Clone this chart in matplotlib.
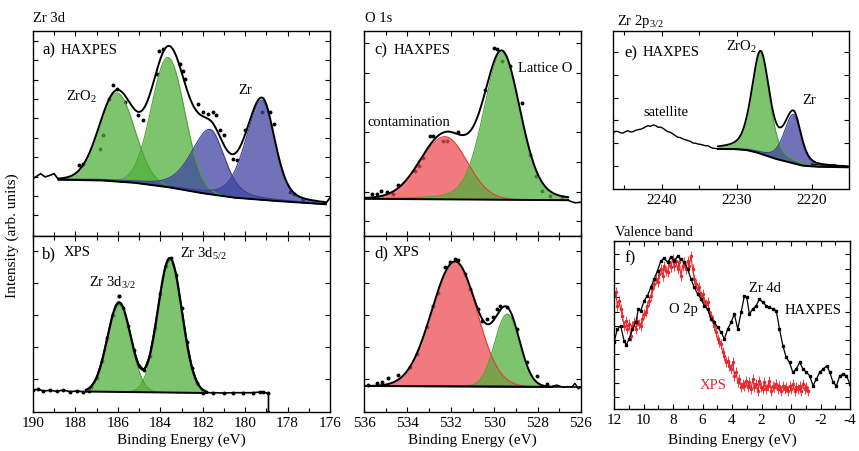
import numpy as np
import matplotlib
matplotlib.use("Agg")
import matplotlib.pyplot as plt
from matplotlib.ticker import MultipleLocator, NullFormatter

plt.rcParams['font.family'] = ['Liberation Serif', 'DejaVu Serif']
plt.rcParams['mathtext.fontset'] = 'custom'
plt.rcParams['mathtext.rm'] = 'Liberation Serif'
plt.rcParams['mathtext.it'] = 'Liberation Serif:italic'
plt.rcParams['axes.unicode_minus'] = False

# ---------------- DATA ----------------
# (a) Zr 3d HAXPES
A_BG_BE = [188.8, 186.84, 185.27, 183.7, 182.1, 180.55, 178.98, 177.4, 176.2]
A_BG_I = [56, 55.3, 53, 48.7, 42.7, 38, 35.3, 33, 31.3]
# peaks: center, height, HWHM high-BE side, HWHM low-BE side, lorentz fraction
A_ZRO2 = [(186.04, 88.7, 0.98, 0.98, 0.0), (183.63, 130, 0.92, 0.92, 0.0)]
A_ZR = [(181.65, 65, 1.05, 0.80, 0.4), (179.2, 100, 0.90, 0.70, 0.3)]
A_DOT_BE = [187.83, 187.63, 186.84, 186.68, 186.40, 186.21, 186.02, 185.66, 185.06, 184.80,
            184.16, 184.04, 183.85, 183.07, 182.91, 182.83, 182.20, 181.97, 181.73, 181.50,
            181.37, 181.18, 181.02, 180.55, 180.39, 180.00, 179.21, 178.85, 178.66, 177.88,
            177.72, 177.25]
A_DOT_I = [70.3, 71.3, 87, 100.3, 137, 151, 147, 133.7, 120.3, 115.3,
           162, 185.3, 187, 172, 165.3, 157, 132, 123.7, 122, 123.7,
           121, 105.3, 100.3, 77, 75.3, 105.3, 123.7, 123.7, 112, 43.7,
           42, 37]
A_LEFT_BE = [190.0, 189.64, 189.43, 189.2, 189.0, 188.8]
A_LEFT_I = [57, 62, 58.7, 60.3, 62, 56]
A_RIGHT_BE = [176.2, 176.0]
A_RIGHT_I = [32, 38]

# (b) Zr 3d XPS
B_BG_BE = [187.5, 181.8]
B_BG_I = [20.5, 19.0]
B_ZRO2 = [(185.94, 89.5, 0.65, 0.65, 0.0), (183.55, 134.5, 0.67, 0.67, 0.0)]
B_DATA_BE = [190.0, 189.75, 189.51, 189.2, 188.88, 188.57, 188.25, 187.94, 187.63, 187.34,
             187.25, 187.0, 186.75, 186.5, 186.25, 186.0, 185.75, 185.5, 185.25, 185.0,
             184.75, 184.5, 184.25, 184.0, 183.75, 183.5, 183.25, 183.0, 182.75, 182.5,
             182.25, 181.97, 181.5, 181.02, 180.55, 180.08, 179.61, 179.29, 179.14, 178.9, 178.9]
B_DATA_I = [22, 22.7, 21, 21.7, 20.7, 22, 20.3, 21, 20.3, 20.7,
            25.5, 34.5, 51, 74, 97, 109.5, 104, 86, 62, 46.5,
            42, 56, 84.5, 118, 146, 154, 137.5, 104, 70.5, 44,
            29, 19.3, 19.3, 19, 19.3, 19.3, 19.3, 20, 19.7, 18.7, 0]
B_OUT_BE = [185.94]
B_OUT_I = [116]

# (c) O 1s HAXPES
C_BG_BE = [536.0, 526.6]
C_BG_I = [36.7, 35.3]
C_CONT = (532.27, 62.7, 1.32, 1.2, 0.0)
C_LAT = (529.64, 147, 1.0, 1.0, 0.2)
C_DOT_BE = [535.65, 535.42, 535.23, 534.95, 534.65, 534.42, 533.65, 533.45, 533.27, 532.96,
            532.81, 532.35, 532.19, 531.65, 530.42, 530.0, 529.88, 529.65, 529.27, 528.73,
            528.35, 528.07, 527.81, 527.43, 526.89]
C_DOT_I = [41.7, 41.7, 44.3, 43.3, 42, 51, 65, 69.3, 77.7, 99.3,
           99.3, 94.3, 94.3, 103.7, 146, 187.7, 186.7, 174.3, 169.3, 132.7,
           81, 59.3, 44.3, 39.3, 38.7]
C_RIGHT_BE = [526.6, 526.5, 526.27, 526.0]
C_RIGHT_I = [35.5, 34.3, 32.7, 33.3]

# (d) O 1s XPS
D_BG_BE = [536.0, 526.0]
D_BG_I = [26.0, 25.0]
D_CONT = (531.8, 125, 1.27, 1.18, 0.0)
D_LAT = (529.4, 72.5, 0.68, 0.68, 0.0)
D_DOT_BE = [535.8, 535.42, 535.19, 534.88, 534.42, 533.88, 533.57, 533.11, 532.81, 532.58,
            532.27, 532.04, 531.81, 531.65, 531.35, 531.12, 530.73, 530.58, 530.35, 530.04,
            529.88, 529.73, 529.42, 528.96, 528.5, 528.04, 527.58]
D_DOT_I = [27.3, 29, 30.3, 33.7, 37, 44.7, 58, 84.7, 106.3, 119,
           144.7, 149.7, 153, 152.3, 138, 123, 103, 91.3, 93, 94.7,
           103, 105.7, 105.3, 83, 49.7, 36.3, 28]
D_RIGHT_BE = [527.3, 527.12, 526.82, 526.6, 526.43, 526.28, 526.12, 526.0]
D_RIGHT_I = [26, 27, 24.7, 25.5, 24.7, 28.7, 23, 25]

# (e) Zr 2p3/2 HAXPES
E_LEFT_BE = [2246.4, 2246.1, 2245.8, 2245.5, 2245.16, 2244.8, 2244.49, 2244.15, 2243.83,
             2243.5, 2243.16, 2242.8, 2242.49, 2242.15, 2241.83, 2241.5, 2241.16, 2240.8,
             2240.49, 2240.15, 2239.83, 2239.5, 2239.16, 2238.8, 2238.49, 2238.15, 2237.83,
             2237.5, 2237.16, 2236.8, 2236.49, 2236.15, 2235.83, 2235.5, 2235.16, 2234.8,
             2234.49, 2234.15, 2233.83, 2233.5, 2233.16, 2232.8, 2232.49]
E_LEFT_I = [56.7, 57.8, 57.3, 56.2, 56, 57.5, 58.3, 57, 57.3,
            58.6, 59.3, 59.8, 60.7, 62.2, 63.3, 62.6, 64, 63.4,
            61.7, 61.9, 60.7, 58.8, 57.3, 56.5, 55, 53.2, 51.7,
            51.4, 50, 49.2, 48.3, 47.6, 46, 45.8, 45, 44.6,
            44, 43.2, 43.3, 41.8, 40.7, 40.6, 40]
E_BG_BE = [2232.49, 2230.49, 2228.71, 2227.37, 2226.04, 2224.71, 2222.93, 2221.16, 2219.37, 2215.16]
E_BG_I = [40, 40, 39, 36.7, 33.3, 30, 26.7, 23.3, 22.3, 21.7]
E_ZRO2 = (2226.8, 101, 1.4, 1.4, 0.4)
E_ZR = (2222.4, 49, 1.45, 1.15, 0.4)
E_RIGHT_BE = [2220.0, 2219.5, 2219.0, 2218.5, 2218.0, 2217.5, 2217.0, 2216.5, 2216.0, 2215.3]
E_RIGHT_I = [25, 24, 25.5, 24, 24.5, 23.5, 24.5, 23, 23.5, 22.5]

# (f) Valence band
F_HAX_BE = [12.0, 11.77, 11.55, 11.32, 11.16, 10.98, 10.75, 10.52, 10.35, 10.18, 9.96, 9.73,
            9.5, 9.28, 9.05, 8.82, 8.6, 8.37, 8.14, 7.92, 7.69, 7.46, 7.24, 7.01, 6.78, 6.56,
            6.33, 6.1, 5.88, 5.65, 5.42, 5.2, 4.97, 4.74, 4.52, 4.29, 4.06, 3.84, 3.61, 3.38,
            3.16, 3.0, 2.82, 2.59, 2.36, 2.14, 1.91, 1.68, 1.46, 1.23, 1.0, 0.78, 0.55, 0.33,
            0.1, -0.12, -0.35, -0.59, -0.81, -1.04, -1.27, -1.49, -1.72, -1.95, -2.17, -2.44,
            -2.63, -2.85, -3.08, -3.31, -3.53, -3.76, -3.99]
F_HAX_I = [66.7, 80, 83.3, 68.3, 64, 70, 80, 86.7, 100, 98.3, 108.3, 113.3,
           121.7, 130, 138.3, 148.3, 150.7, 146.7, 151.7, 148.3, 152.7, 150, 146.7, 140, 130, 121.7,
           115, 110, 103.3, 100, 90, 86.7, 81.7, 76.7, 70, 80, 86.7, 95, 80, 96.7,
           113.3, 111.7, 95, 100, 103.3, 110, 106.7, 103.3, 101.7, 100, 98.3, 80, 63.3, 51.7,
           46.7, 36.7, 40, 46.7, 40, 36.7, 33.3, 23.3, 30, 36.7, 40, 43.3,
           36.7, 26.7, 23.3, 33.3, 35, 33.3, 25]
F_XPS_BE = [12.0, 11.89, 11.77, 11.66, 11.55, 11.43, 11.32, 11.2, 11.09, 10.98, 10.86, 10.75,
            10.64, 10.52, 10.41, 10.3, 10.18, 10.07, 9.96, 9.84, 9.73, 9.62, 9.5, 9.39, 9.28,
            9.16, 9.05, 8.94, 8.82, 8.71, 8.6, 8.48, 8.37, 8.26, 8.14, 8.03, 7.92, 7.8, 7.69,
            7.58, 7.46, 7.35, 7.24, 7.12, 7.01, 6.9, 6.78, 6.67, 6.56, 6.44, 6.33, 6.22, 6.1,
            5.99, 5.88, 5.76, 5.65, 5.54, 5.42, 5.31, 5.2, 5.08, 4.97, 4.86, 4.74, 4.63, 4.52,
            4.4, 4.29, 4.18, 4.06, 3.95, 3.84, 3.72, 3.61, 3.5, 3.38, 3.27, 3.16, 3.04, 2.93,
            2.82, 2.7, 2.59, 2.48, 2.36, 2.25, 2.14, 2.02, 1.91, 1.8, 1.68, 1.57, 1.46, 1.34,
            1.23, 1.12, 1.0, 0.89, 0.78, 0.66, 0.55, 0.44, 0.33, 0.21, 0.1, -0.02, -0.13, -0.24,
            -0.35, -0.47, -0.58, -0.69, -0.81, -0.92, -1.03, -1.15]
F_XPS_I = [113.3, 116.7, 103.3, 108.3, 100, 93.3, 83.3, 88.3, 80, 85, 73.3, 83.3,
           86.7, 80, 88.3, 85, 83.3, 90, 95, 96.7, 103.3, 108.3, 113.3, 120, 125,
           130, 126.7, 135, 140, 133.3, 143.3, 138.3, 136.7, 146.7, 141.7, 150, 143.3, 148.3, 140,
           146.7, 133.3, 143.3, 146.7, 140, 148.3, 143.3, 153.3, 140, 130, 125, 120, 121.7, 113.3,
           115, 108.3, 105, 106.7, 96.7, 93.3, 88.3, 83.3, 76.7, 70, 66.7, 65, 56.7, 53.3,
           46.7, 48.3, 43.3, 40, 46.7, 33.3, 36.7, 26.7, 30, 21.7, 25, 23.3, 28.3, 21.7,
           26.7, 20, 30, 21.7, 25, 18.3, 28.3, 21.7, 20, 26.7, 20, 23.3, 28.3, 18.3,
           23.3, 21.7, 25, 20, 23.3, 18.3, 23.3, 20, 21.7, 18.3, 23.3, 20, 25, 18.3,
           21.7, 20, 23.3, 18.3, 25, 20, 21.7, 18.3]
F_XPS_ERR = 5

# ---------------- STYLE ----------------
GREEN = '#53B03D'
GREEN_EDGE = '#4CA532'
BLUE = '#4044A0'
BLUE_EDGE = '#3A3E98'
RED = '#EB4D53'
RED_EDGE = '#E8383D'
FILL_ALPHA = 0.75
XPS_RED = '#E8262B'

W, H = 859, 452
fig = plt.figure(figsize=(W / 100, H / 100), dpi=100)


def ax_px(l, r, t, b):
    return fig.add_axes([l / W, 1 - b / H, (r - l) / W, (b - t) / H])


def pv(x, p):
    c, h, wl, wr, eta = p
    w = np.where(x >= c, wl, wr)
    u = ((x - c) / w) ** 2
    return h * ((1 - eta) * np.exp(-np.log(2) * u) + eta / (1 + u))


def bg_on(grid, be, val):
    be = np.asarray(be)[::-1]
    val = np.asarray(val)[::-1]
    return np.interp(grid, be, val)


def style(ax, xlim, ylim, xmaj, xmin, yticks, labels):
    ax.set_xlim(*xlim)
    ax.set_ylim(*ylim)
    ax.xaxis.set_major_locator(MultipleLocator(xmaj))
    ax.xaxis.set_minor_locator(MultipleLocator(xmin))
    ax.set_yticks(yticks)
    ax.yaxis.set_major_formatter(NullFormatter())
    if not labels:
        ax.xaxis.set_major_formatter(NullFormatter())
    ax.tick_params(which='both', direction='in', top=True, right=True, width=0.8,
                   labelsize=11, pad=3)
    ax.tick_params(which='major', length=3.5)
    ax.tick_params(which='minor', length=3.0)
    for s in ax.spines.values():
        s.set_linewidth(1.0)


def draw_fit(ax, grid, bgv, comps, colors, edges, lw_env=1.4):
    total = bgv.copy()
    for p, col, ec in zip(comps, colors, edges):
        y = pv(grid, p)
        ax.fill_between(grid, bgv, bgv + y, color=col, alpha=FILL_ALPHA, lw=0, zorder=2)
        ax.plot(grid, bgv + y, color=ec, lw=0.8, zorder=2.5)
        total = total + y
    ax.plot(grid, bgv, color='black', lw=1.4, zorder=3)
    ax.plot(grid, total, color='black', lw=lw_env, zorder=4)


def ftext(x, y, s, **kw):
    kw.setdefault('fontsize', 10.5)
    fig.text(x / W, 1 - y / H, s, ha='left', va='center', **kw)


# ---- (a)
axa = ax_px(33, 330, 32, 236.5)
ga = np.linspace(188.8, 176.2, 700)
bga = bg_on(ga, A_BG_BE, A_BG_I)
axa.plot(A_DOT_BE, A_DOT_I, ls='none', marker='o', ms=1.8, color='black', zorder=1)
draw_fit(axa, ga, bga, A_ZRO2 + A_ZR, [GREEN, GREEN, BLUE, BLUE],
         [GREEN_EDGE, GREEN_EDGE, BLUE_EDGE, BLUE_EDGE])
axa.plot(A_LEFT_BE, A_LEFT_I, color='black', lw=1.2, zorder=4)
axa.plot(A_RIGHT_BE, A_RIGHT_I, color='black', lw=1.2, zorder=4)
style(axa, (190, 176), (0, 205), 2, 1, 20.3 + 19.4 * np.arange(10), False)

# ---- (b)
axb = ax_px(33, 330, 236.5, 413)
gb = np.linspace(187.5, 181.8, 500)
bgb = bg_on(gb, B_BG_BE, B_BG_I)
axb.plot(B_DATA_BE, B_DATA_I, color='black', lw=1.2, marker='o', ms=1.8, zorder=1)
axb.plot(B_OUT_BE, B_OUT_I, ls='none', marker='o', ms=2.0, color='black', zorder=5)
draw_fit(axb, gb, bgb, B_ZRO2, [GREEN, GREEN], [GREEN_EDGE, GREEN_EDGE], lw_env=1.6)
style(axb, (190, 176), (0, 176.5), 2, 1, 33 + 32.07 * np.arange(5), True)

# ---- (c)
axc = ax_px(364, 581, 32, 236.5)
gc = np.linspace(536.0, 526.6, 600)
bgc = bg_on(gc, C_BG_BE, C_BG_I)
axc.plot(C_DOT_BE, C_DOT_I, ls='none', marker='o', ms=1.8, color='black', zorder=1)
draw_fit(axc, gc, bgc, [C_CONT, C_LAT], [RED, GREEN], [RED_EDGE, GREEN_EDGE])
axc.plot(C_RIGHT_BE, C_RIGHT_I, color='black', lw=1.2, zorder=4)
style(axc, (536, 526), (0, 204.5), 2, 1, 14.3 + 29.7 * np.arange(7), False)

# ---- (d)
axd = ax_px(364, 581, 236.5, 413)
gd = np.linspace(536.0, 527.3, 600)
bgd = bg_on(gd, D_BG_BE, D_BG_I)
axd.plot(D_DOT_BE, D_DOT_I, ls='none', marker='o', ms=1.8, color='black', zorder=1)
draw_fit(axd, gd, bgd, [D_CONT, D_LAT], [RED, GREEN], [RED_EDGE, GREEN_EDGE])
axd.plot(D_BG_BE, D_BG_I, color='black', lw=1.2, zorder=3)
axd.plot(D_RIGHT_BE, D_RIGHT_I, color='black', lw=1.0, zorder=4)
style(axd, (536, 526), (0, 176.5), 2, 1, 33 + 32.07 * np.arange(5), True)

# ---- (e)
axe = ax_px(613, 849, 32, 190)
ge = np.linspace(2232.49, 2215.16, 700)
bge = bg_on(ge, E_BG_BE, E_BG_I)
axe.plot(E_LEFT_BE, E_LEFT_I, color='black', lw=1.0, zorder=4)
draw_fit(axe, ge, bge, [E_ZRO2, E_ZR], [GREEN, BLUE], [GREEN_EDGE, BLUE_EDGE], lw_env=1.3)
axe.plot(E_RIGHT_BE, E_RIGHT_I, color='black', lw=0.9, zorder=4)
style(axe, (2246.5, 2215), (0, 158), 10, 5, 23.3 + 22.7 * np.arange(6), True)

# ---- (f)
axf = ax_px(614, 850, 242, 410)
axf.errorbar(F_XPS_BE, F_XPS_I, yerr=F_XPS_ERR, color=XPS_RED, lw=0.8, marker='o', ms=1.5,
             elinewidth=0.6, capsize=0, zorder=2)
axf.plot(F_HAX_BE, F_HAX_I, color='black', lw=0.9, marker='s', ms=1.6, zorder=3)
style(axf, (12, -4), (0, 168), 2, 1, 11.7 + 14.3 * np.arange(11), True)

# ---------------- TEXT ----------------
ftext(33, 19, 'Zr 3d')
ftext(365, 18, 'O 1s')
ftext(617, 22, r'Zr 2p$_{3/2}$')
ftext(615, 233, 'Valence band')

ftext(42, 50, 'a)', fontsize=12)
ftext(61, 50, 'HAXPES')
ftext(66, 97, r'ZrO$_2$')
ftext(238, 90, 'Zr')
ftext(42, 254, 'b)', fontsize=12)
ftext(64, 253, 'XPS')
ftext(89, 283, r'Zr 3d$_{3/2}$')
ftext(180, 254, r'Zr 3d$_{5/2}$')

ftext(374, 50, 'c)', fontsize=12)
ftext(394, 50, 'HAXPES')
ftext(518, 69, 'Lattice O')
ftext(367, 122, 'contamination')
ftext(374, 253, 'd)', fontsize=12)
ftext(393, 253, 'XPS')

ftext(624, 53, 'e)', fontsize=12)
ftext(643, 53, 'HAXPES')
ftext(726, 47, r'ZrO$_2$')
ftext(802, 100, 'Zr')
ftext(643, 113, 'satellite')

ftext(624, 258, 'f)', fontsize=12)
ftext(669, 310, 'O 2p')
ftext(749, 289, 'Zr 4d')
ftext(785, 311, 'HAXPES')
ftext(700, 386, 'XPS', color=XPS_RED)

for cx in (181.5, 472.5, 732):
    fig.text(cx / W, 1 - 440 / H, 'Binding Energy (eV)', ha='center', va='center', fontsize=11)
fig.text(12 / W, 1 - 236 / H, 'Intensity (arb. units)', ha='center', va='center',
         rotation=90, fontsize=11)

fig.savefig('out.png', dpi=100)
